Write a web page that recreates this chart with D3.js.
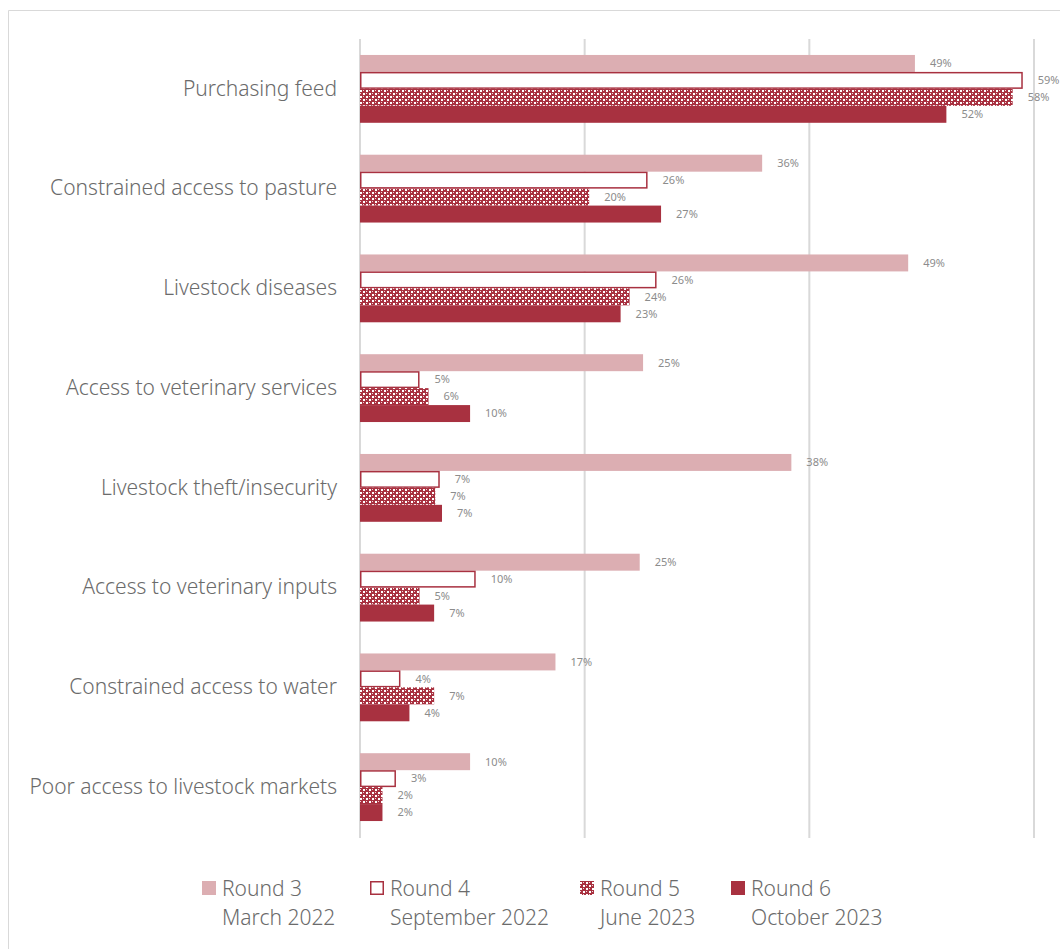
<!DOCTYPE html>
<html>
<head>
<meta charset="utf-8">
<script src="https://cdn.jsdelivr.net/npm/d3@7/dist/d3.min.js"></script>
<style>
  html, body { margin: 0; padding: 0; background: #fff; }
  svg { display: block; }
</style>
</head>
<body>
<div id="chart"></div>
<script>
// ---- Data ----
const categories = [
  "Purchasing feed",
  "Constrained access to pasture",
  "Livestock diseases",
  "Access to veterinary services",
  "Livestock theft/insecurity",
  "Access to veterinary inputs",
  "Constrained access to water",
  "Poor access to livestock markets"
];
const seriesNames = ["Round 3", "Round 4", "Round 5", "Round 6"];
const seriesDates = ["March 2022", "September 2022", "June 2023", "October 2023"];
const round3 = [49.4, 35.8, 48.8, 25.2, 38.4, 24.9, 17.4, 9.8];
const round4 = [59.0, 25.6, 26.4, 5.3, 7.1, 10.3, 3.6, 3.2];
const round5 = [58.1, 20.4, 24.0, 6.1, 6.7, 5.3, 6.6, 2.0];
const round6 = [52.2, 26.8, 23.2, 9.8, 7.3, 6.6, 4.4, 2.0];
const xTicks = [0, 20, 40, 60];

const seriesValues = [round3, round4, round5, round6];

// ---- Layout ----
const W = 1060, H = 949;
const dark = "#a83140", light = "#dcaeb2";
const labelFont = "'Noto Sans', 'Liberation Sans', Arial, sans-serif";
const svg = d3.select("#chart").append("svg").attr("width", W).attr("height", H);

const defs = svg.append("defs");
const pat = defs.append("pattern").attr("id", "checker").attr("patternUnits", "userSpaceOnUse")
  .attr("width", 6).attr("height", 6);
pat.append("rect").attr("width", 6).attr("height", 6).attr("fill", dark);
pat.append("rect").attr("x", 0).attr("y", 0).attr("width", 2).attr("height", 2).attr("fill", "#fff");
pat.append("rect").attr("x", 3).attr("y", 3).attr("width", 2).attr("height", 2).attr("fill", "#fff");
pat.append("rect").attr("x", 3).attr("y", 0).attr("width", 1).attr("height", 1).attr("fill", "#f3d9dc");
pat.append("rect").attr("x", 0).attr("y", 3).attr("width", 1).attr("height", 1).attr("fill", "#f3d9dc");

// Outer border (cropped at right/bottom)
svg.append("path").attr("d", `M8.5,${H + 2} V10.5 H${W + 2}`)
  .attr("fill", "none").attr("stroke", "#d9d9d9").attr("stroke-width", 1);

const x = d3.scaleLinear().domain([0, 60]).range([360, 1034]);
const y = d3.scaleBand().domain(categories).range([39, 837]).paddingInner(0.32).paddingOuter(0.16);
const yInner = d3.scaleBand().domain(seriesNames).range([0, y.bandwidth()]);

// Gridlines
svg.append("g").selectAll("line").data(xTicks).join("line")
  .attr("x1", d => x(d)).attr("x2", d => x(d))
  .attr("y1", 39).attr("y2", 838)
  .attr("stroke", "#d9d9d9").attr("stroke-width", 2);

const fills = [light, "#fff", "url(#checker)", dark];
const strokes = ["none", dark, "none", "none"];

const groups = svg.append("g").selectAll("g").data(seriesNames).join("g");
groups.each(function (s, si) {
  const g = d3.select(this);
  const vals = seriesValues[si];
  g.selectAll("rect").data(categories).join("rect")
    .attr("x", x(0) + (si === 1 ? 0.75 : 0))
    .attr("y", (c) => y(c) + yInner(s) + (si === 1 ? 0.75 : 0))
    .attr("width", (c, i) => x(vals[i]) - x(0) - (si === 1 ? 1.5 : 0))
    .attr("height", yInner.bandwidth() - (si === 1 ? 1.5 : 0))
    .attr("fill", fills[si])
    .attr("stroke", strokes[si])
    .attr("stroke-width", si === 1 ? 1.5 : 0);
  g.selectAll("text").data(categories).join("text")
    .attr("x", (c, i) => x(vals[i]) + 15)
    .attr("y", (c) => y(c) + yInner(s) + yInner.bandwidth() / 2)
    .attr("dy", "0.35em")
    .attr("font-family", labelFont)
    .attr("font-size", 11)
    .attr("fill", "#8c8c8c")
    .text((c, i) => Math.round(vals[i]) + "%");
});

// Category labels
const yAxis = d3.axisLeft(y).tickSize(0).tickPadding(23);
const ag = svg.append("g").attr("transform", `translate(${x(0)},0)`).call(yAxis);
ag.select(".domain").remove();
ag.selectAll("text")
  .attr("font-family", labelFont)
  .attr("font-weight", 300)
  .attr("font-size", 21)
  .attr("fill", "#6b6b6b");

// Legend
const legendX = [202, 370, 580, 731];
const leg = svg.append("g").selectAll("g").data(seriesNames).join("g")
  .attr("transform", (d, i) => `translate(${legendX[i]},0)`);
leg.append("rect")
  .attr("x", (d, i) => i === 1 ? 0.75 : 0).attr("y", (d, i) => 881 + (i === 1 ? 0.75 : 0))
  .attr("width", (d, i) => i === 1 ? 12.5 : 14).attr("height", (d, i) => i === 1 ? 12.5 : 14)
  .attr("fill", (d, i) => fills[i]).attr("stroke", (d, i) => strokes[i])
  .attr("stroke-width", (d, i) => i === 1 ? 1.5 : 0);
leg.append("text").attr("x", 20).attr("y", 896)
  .attr("font-family", labelFont).attr("font-weight", 300).attr("font-size", 21)
  .attr("fill", "#6b6b6b").text(d => d);
leg.append("text").attr("x", 20).attr("y", 925)
  .attr("font-family", labelFont).attr("font-weight", 300).attr("font-size", 21)
  .attr("fill", "#6b6b6b").text((d, i) => seriesDates[i]);
</script>
</body>
</html>
